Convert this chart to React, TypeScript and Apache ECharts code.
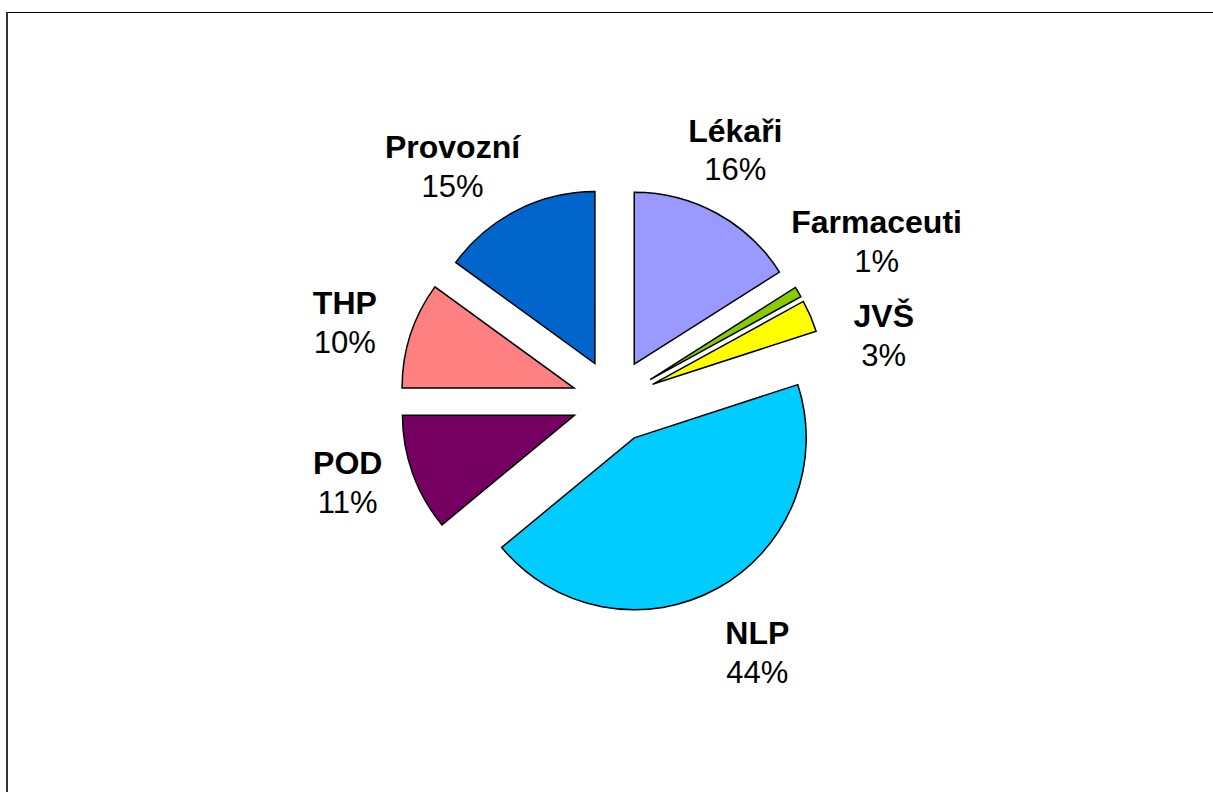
import React, { useEffect, useRef } from "react";
import * as echarts from "echarts";

const categories = ["Lékaři", "Farmaceuti", "JVŠ", "NLP", "POD", "THP", "Provozní"];
const shares = [16, 1, 3, 44, 11, 10, 15];
const sliceColors = ["#9999FF", "#88CC00", "#FFFF00", "#00CCFF", "#760062", "#FF8080", "#0066CC"];
// label nudges (px) relative to the label ring position
const labelNudges = [
  [-15, -3],
  [19, -15],
  [10, 47],
  [7, 4],
  [0, -14],
  [0, 9],
  [-33, 18],
];

const CENTER = [614, 401];
const RADIUS = 172;
const EXPLODE = 42;
const LABEL_RING = 280;
const FONT = "'Liberation Sans', Arial, sans-serif";

export default function App() {
  const ref = useRef<HTMLDivElement>(null);
  useEffect(() => {
    if (!ref.current) return;
    const chart = echarts.init(ref.current, undefined, { renderer: "svg" });
    const pieData = categories.map((name, i) => ({
      name,
      value: shares[i],
      selected: true,
      itemStyle: { color: sliceColors[i] },
    }));
    const labelData = categories.map((name, i) => ({
      name,
      value: shares[i],
      label: { offset: labelNudges[i] },
    }));
    chart.setOption({
      animation: false,
      backgroundColor: "#ffffff",
      graphic: [
        {
          type: "line",
          shape: { x1: 7, y1: 12.5, x2: 1213, y2: 12.5 },
          style: { stroke: "#000", lineWidth: 1.2 },
          silent: true,
        },
        {
          type: "line",
          shape: { x1: 7, y1: 12, x2: 7, y2: 792 },
          style: { stroke: "#333", lineWidth: 2 },
          silent: true,
        },
      ],
      series: [
        {
          type: "pie",
          center: CENTER,
          radius: RADIUS,
          startAngle: 90,
          clockwise: true,
          selectedMode: "multiple",
          selectedOffset: EXPLODE,
          silent: true,
          avoidLabelOverlap: false,
          label: { show: false },
          labelLine: { show: false },
          itemStyle: { borderColor: "#000", borderWidth: 1.5, borderJoin: "miter" },
          select: { itemStyle: { borderColor: "#000", borderWidth: 1.5 } },
          emphasis: { disabled: true },
          data: pieData,
        },
        {
          type: "pie",
          center: CENTER,
          radius: [LABEL_RING - 10, LABEL_RING + 10],
          startAngle: 90,
          clockwise: true,
          silent: true,
          avoidLabelOverlap: false,
          itemStyle: { color: "rgba(0,0,0,0)", borderWidth: 0 },
          emphasis: { disabled: true },
          labelLine: { show: false },
          label: {
            show: true,
            position: "inside",
            color: "#000",
            textBorderWidth: 0,
            formatter: (p: any) => `{b|${p.name}}\n{p|${Math.round(p.percent)}%}`,
            rich: {
              b: { fontFamily: FONT, fontSize: 32, fontWeight: "bold", color: "#000", lineHeight: 39, align: "center" },
              p: { fontFamily: FONT, fontSize: 31, color: "#000", lineHeight: 39, align: "center" },
            },
          },
          data: labelData,
        },
      ],
    });
    return () => chart.dispose();
  }, []);
  return (
    <div
      ref={ref}
      style={{ position: "fixed", left: 0, top: 0, width: 1213, height: 792, background: "#fff" }}
    />
  );
}
